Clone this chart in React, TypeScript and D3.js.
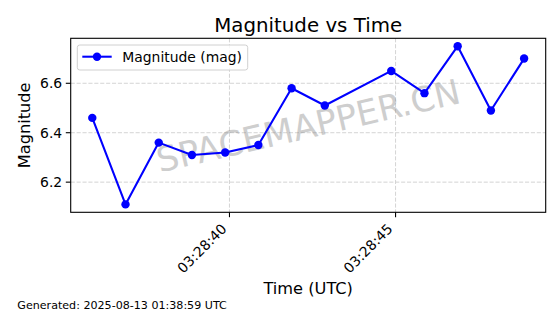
import React from "react";
import * as d3 from "d3";

const times: string[] = [
  "2025-08-13T03:28:35.870Z",
  "2025-08-13T03:28:36.870Z",
  "2025-08-13T03:28:37.870Z",
  "2025-08-13T03:28:38.870Z",
  "2025-08-13T03:28:39.870Z",
  "2025-08-13T03:28:40.870Z",
  "2025-08-13T03:28:41.870Z",
  "2025-08-13T03:28:42.870Z",
  "2025-08-13T03:28:44.870Z",
  "2025-08-13T03:28:45.870Z",
  "2025-08-13T03:28:46.870Z",
  "2025-08-13T03:28:47.870Z",
  "2025-08-13T03:28:48.870Z",
];
const magnitudes: number[] = [6.46, 6.11, 6.36, 6.31, 6.32, 6.35, 6.58, 6.51, 6.65, 6.56, 6.75, 6.49, 6.7];
const yTicks: number[] = [6.2, 6.4, 6.6];
const xTicks: string[] = ["2025-08-13T03:28:40Z", "2025-08-13T03:28:45Z"];

const W = 560;
const H = 314;
const L = 70.7, R = 545.7, T = 38.3, B = 212.3;
const FONT = "DejaVu Sans, sans-serif";

export default function App() {
  const dates = times.map((t) => new Date(t));
  const data = dates.map((d, i) => ({ d, v: magnitudes[i] }));
  const [xmin, xmax] = d3.extent(dates, (d) => d.getTime()) as [number, number];
  const xpad = (xmax - xmin) * 0.05;
  const [ymin, ymax] = d3.extent(magnitudes) as [number, number];
  const ypad = (ymax - ymin) * 0.05;
  const x = d3.scaleUtc().domain([new Date(xmin - xpad), new Date(xmax + xpad)]).range([L, R]);
  const y = d3.scaleLinear().domain([ymin - ypad, ymax + ypad]).range([B, T]);
  const fmt = d3.utcFormat("%H:%M:%S");
  const line = d3.line<{ d: Date; v: number }>().x((p) => x(p.d)).y((p) => y(p.v));
  const xt = xTicks.map((s) => new Date(s));
  const cx = (L + R) / 2;
  const cy = (T + B) / 2;
  const grid = "#cfcfcf";
  const wmFs = 34.6;

  return (
    <svg width={W} height={H} style={{ position: "absolute", left: 0, top: 0, background: "#fff" }} fontFamily={FONT}>
      <rect x={0} y={0} width={W} height={H} fill="#fff" />
      {/* grid */}
      {xt.map((d, i) => (
        <line key={"gx" + i} x1={x(d)} x2={x(d)} y1={T} y2={B} stroke={grid} strokeWidth={0.9} strokeDasharray="4.1,1.8" />
      ))}
      {yTicks.map((v, i) => (
        <line key={"gy" + i} x1={L} x2={R} y1={y(v)} y2={y(v)} stroke={grid} strokeWidth={0.9} strokeDasharray="4.1,1.8" />
      ))}
      {/* watermark */}
      <g transform={`translate(${cx},${cy}) rotate(-13)`}>
        <text x={0} y={wmFs * 0.365} textAnchor="middle" fontSize={wmFs} fill="#808080" opacity={0.38}>
          SPACEMAPPER.CN
        </text>
      </g>
      {/* line */}
      <path d={line(data) || ""} fill="none" stroke="#0000ff" strokeWidth={2.08} strokeLinejoin="round" />
      {data.map((p, i) => (
        <circle key={"c" + i} cx={x(p.d)} cy={y(p.v)} r={4.2} fill="#0000ff" />
      ))}
      {/* spines */}
      <rect x={L} y={T} width={R - L} height={B - T} fill="none" stroke="#000" strokeWidth={1.1} />
      {/* y ticks */}
      {yTicks.map((v, i) => (
        <g key={"yt" + i}>
          <line x1={L - 4.9} x2={L} y1={y(v)} y2={y(v)} stroke="#000" strokeWidth={1.1} />
          <text x={L - 8.5} y={y(v)} dy="0.36em" textAnchor="end" fontSize={13.9} fill="#000">
            {v.toFixed(1)}
          </text>
        </g>
      ))}
      {/* x ticks */}
      {xt.map((d, i) => (
        <g key={"xt" + i}>
          <line x1={x(d)} x2={x(d)} y1={B} y2={B + 4.9} stroke="#000" strokeWidth={1.1} />
          <text
            transform={`translate(${x(d) - 2},${B + 8.5 + 9}) rotate(-45)`}
            textAnchor="end"
            fontSize={13.9}
            fill="#000"
          >
            {fmt(d)}
          </text>
        </g>
      ))}
      {/* labels */}
      <text x={cx} y={31.5} textAnchor="middle" fontSize={19.8} fill="#000">
        Magnitude vs Time
      </text>
      <text x={cx} y={294} textAnchor="middle" fontSize={16.2} fill="#000">
        Time (UTC)
      </text>
      <text transform={`translate(29.5,${cy}) rotate(-90)`} textAnchor="middle" fontSize={16.2} fill="#000">
        Magnitude
      </text>
      {/* legend */}
      <rect x={77.3} y={45} width={170.4} height={25} rx={2.5} fill="#fff" fillOpacity={0.8} stroke="#d0d0d0" strokeWidth={1} />
      <line x1={82.3} x2={111.7} y1={56.7} y2={56.7} stroke="#0000ff" strokeWidth={2.08} />
      <circle cx={97} cy={56.7} r={4.2} fill="#0000ff" />
      <text x={122.3} y={56.7} dy="0.36em" fontSize={13.9} fill="#000">
        Magnitude (mag)
      </text>
      {/* footer */}
      <text x={17.3} y={309} fontSize={11.1} fill="#000">
        Generated: 2025-08-13 01:38:59 UTC
      </text>
    </svg>
  );
}
